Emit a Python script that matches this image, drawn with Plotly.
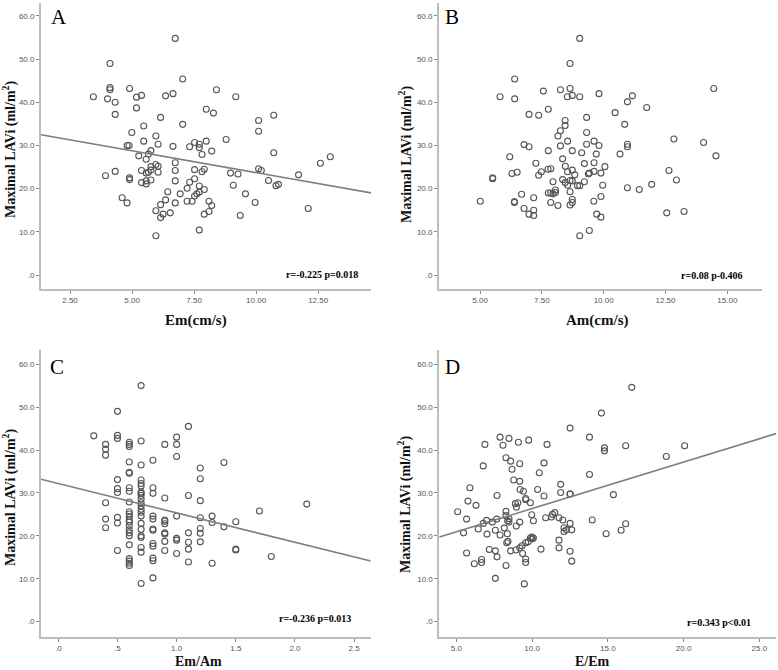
import numpy as np
import plotly.graph_objects as go

# ---------------- data ----------------
# Panel A: Em (cm/s) vs Maximal LAVi
em_A = [6.74, 4.11, 7.04, 4.11, 4.11, 4.90, 3.44, 4.01, 4.32, 5.18,
        5.38, 6.35, 6.65, 8.40, 9.18, 5.18, 4.32, 6.15, 7.99, 8.28,
        7.04, 5.47, 4.99, 5.96, 5.47, 4.80, 4.88, 6.05, 6.65, 7.32,
        7.52, 7.71, 7.71, 7.99, 7.82, 8.21, 8.79, 10.10, 10.10, 10.71,
        10.71, 5.27, 5.76, 5.66, 5.57, 6.74, 5.96, 6.05, 3.93, 4.32,
        4.90, 4.90, 5.38, 5.57, 5.66, 5.76, 5.76, 6.05, 5.38, 5.57,
        5.57, 5.76, 6.74, 6.74, 7.52, 7.82, 7.91, 7.32, 7.22, 7.52,
        7.71, 7.91, 6.44, 6.94, 6.74, 6.35, 6.15, 6.25, 6.15, 5.96,
        6.54, 4.60, 4.80, 5.96, 7.22, 7.42, 7.52, 7.61, 7.71, 7.71,
        7.91, 8.10, 8.10, 8.21, 8.97, 9.08, 9.27, 9.57, 9.96, 9.36,
        10.10, 10.21, 10.50, 10.80, 10.90, 11.71, 12.10, 12.59, 12.99]
lavi_A = [54.8, 49.0, 45.4, 43.4, 42.9, 43.2, 41.3, 40.8, 40.0, 41.2,
          41.6, 41.5, 42.0, 42.9, 41.3, 38.7, 37.2, 36.5, 38.4, 37.5,
          34.9, 34.5, 33.0, 32.2, 31.0, 30.0, 30.0, 30.3, 29.8, 29.7,
          30.7, 30.3, 29.5, 31.0, 27.9, 28.7, 31.4, 35.8, 33.3, 37.0,
          28.3, 27.6, 28.8, 28.0, 26.8, 26.0, 25.6, 25.2, 23.0, 24.0,
          22.5, 22.1, 24.2, 23.6, 23.8, 24.3, 25.1, 23.8, 21.4, 21.1,
          21.8, 22.0, 24.2, 21.8, 24.4, 23.9, 24.5, 21.5, 20.1, 22.3,
          20.6, 19.8, 19.3, 18.8, 16.7, 17.4, 16.3, 14.1, 13.3, 14.9,
          14.4, 17.9, 16.7, 9.1, 17.1, 17.1, 18.3, 18.8, 19.2, 10.4,
          14.1, 14.7, 17.1, 16.1, 23.6, 20.8, 23.4, 18.8, 16.8, 13.8,
          24.6, 24.2, 21.9, 20.7, 21.0, 23.2, 15.4, 25.9, 27.4]

# Panel B: Am (cm/s) vs Maximal LAVi
am_B = [9.03, 8.64, 6.40, 5.81, 6.40, 7.56, 8.25, 8.64, 8.53, 8.73,
        9.03, 9.81, 6.98, 7.37, 7.76, 8.44, 8.44, 8.15, 8.25, 9.31,
        9.31, 8.54, 6.78, 6.98, 6.20, 7.76, 8.25, 8.73, 9.11, 9.31,
        9.61, 9.81, 9.70, 7.26, 8.34, 8.45, 8.54, 8.73, 8.83, 7.75,
        7.86, 7.48, 7.37, 9.22, 9.61, 9.61, 9.42, 9.38, 9.89, 10.05,
        6.29, 6.50, 5.51, 5.51, 7.95, 8.34, 8.44, 8.54, 8.64, 8.73,
        8.94, 9.03, 9.22, 9.96, 7.76, 7.86, 8.05, 7.95, 8.05, 8.64,
        6.68, 7.17, 5.01, 6.39, 6.39, 6.78, 6.98, 7.17, 7.17, 7.86,
        8.15, 8.64, 8.73, 8.73, 9.60, 9.89, 9.72, 9.89, 9.03, 9.42,
        10.96, 11.16, 10.46, 11.74, 10.85, 10.96, 10.96, 10.66, 12.84, 14.04,
        14.45, 14.54, 10.96, 11.44, 11.94, 12.64, 12.94, 12.55, 13.25]
lavi_B = [54.8, 49.0, 45.4, 41.3, 40.8, 42.6, 42.9, 43.2, 41.3, 41.6,
          41.3, 42.0, 37.2, 37.0, 38.4, 35.8, 34.6, 32.2, 33.4, 36.5,
          33.0, 31.0, 30.2, 29.7, 27.4, 28.8, 29.9, 28.8, 28.3, 30.3,
          31.0, 30.0, 28.0, 25.9, 26.9, 25.2, 23.9, 24.3, 23.2, 24.5,
          24.6, 23.9, 23.1, 25.8, 26.0, 24.0, 23.6, 23.4, 23.6, 25.1,
          23.5, 23.8, 22.5, 22.3, 21.6, 22.1, 21.4, 20.8, 21.9, 21.8,
          20.7, 20.7, 21.6, 20.8, 19.0, 19.0, 19.7, 18.8, 19.1, 19.3,
          18.7, 17.9, 17.1, 17.0, 16.8, 15.4, 14.1, 15.0, 13.8, 16.8,
          16.1, 16.2, 16.8, 17.5, 17.1, 18.2, 14.1, 13.4, 9.1, 10.3,
          40.1, 41.5, 37.6, 38.8, 34.9, 30.3, 29.7, 28.0, 31.5, 30.7,
          43.2, 27.6, 20.2, 19.8, 21.0, 24.2, 22.0, 14.4, 14.7]

# Panel C: Em/Am vs Maximal LAVi
emam_C = ([0.3] + [0.4] * 6 + [0.5] * 9 + [0.6] * 23 + [0.7] * 22 + [0.8] * 12
          + [0.9] * 9 + [1.0] * 7 + [1.1] * 6 + [1.2] * 7 + [1.3] * 3 + [1.4] * 2
          + [1.5] * 3 + [1.7] + [1.8] + [2.1])
lavi_C = [43.3,
          41.3, 40.2, 38.8, 27.7, 23.9, 21.9,
          49.0, 43.4, 42.7, 33.1, 31.0, 30.1, 24.3, 23.0, 16.6,
          41.8, 41.3, 40.8, 37.2, 34.8, 34.6, 31.2, 30.4, 27.9, 25.6, 25.1, 24.5,
          23.7, 23.2, 22.4, 21.4, 20.7, 20.0, 17.9, 14.7, 14.1, 13.6, 13.1,
          55.0, 42.1, 36.5, 33.0, 32.2, 31.6, 30.2, 29.9, 29.4, 28.6, 27.7, 27.0,
          26.2, 25.5, 24.6, 22.9, 21.5, 20.0, 19.6, 17.3, 16.2, 8.9,
          37.6, 31.2, 29.9, 24.6, 23.9, 21.6, 21.3, 18.2, 17.6, 14.8, 14.2, 10.2,
          41.3, 28.8, 23.7, 23.4, 22.8, 20.7, 20.4, 18.7, 16.6,
          43.0, 41.3, 38.5, 24.6, 19.4, 19.0, 15.9,
          45.5, 29.4, 20.7, 18.5, 16.9, 13.9,
          35.8, 33.3, 28.2, 24.2, 21.7, 20.6, 18.6,
          24.6, 23.1, 13.6,
          37.1, 22.1,
          23.3, 16.9, 16.7,
          25.8,
          15.2,
          27.4]

# Panel D: E/Em vs Maximal LAVi
eem_D = [12.51, 7.89, 8.48, 6.89, 8.08, 9.10, 9.78, 10.99, 8.28, 8.59,
         6.78, 8.68, 9.19, 10.79, 10.48, 8.79, 9.19, 5.90, 7.69, 9.21,
         9.43, 9.58, 9.58, 10.37, 10.79, 5.77, 6.30, 8.90, 8.97, 9.06,
         9.89, 11.89, 11.89, 12.51, 12.51, 5.09, 5.68, 5.48, 6.45, 6.78,
         7.00, 7.38, 7.67, 7.03, 7.58, 7.89, 8.28, 8.28, 8.48, 8.39,
         8.48, 8.17, 8.37, 9.19, 8.96, 9.98, 10.09, 10.90, 11.28, 11.50,
         11.35, 11.78, 12.03, 12.11, 12.11, 12.27, 12.51, 12.62, 8.33, 8.41,
         8.59, 8.94, 9.19, 9.34, 9.58, 9.74, 9.89, 9.98, 10.02, 10.09,
         7.18, 7.58, 7.69, 5.68, 6.19, 6.67, 6.67, 8.28, 9.38, 9.58,
         9.58, 10.59, 11.78, 11.78, 12.51, 12.62, 7.58, 9.49, 16.58, 14.58,
         13.79, 14.78, 14.78, 16.18, 18.86, 20.07, 13.79, 15.37, 13.97, 14.89,
         15.88, 16.18]
lavi_D = [45.1, 43.0, 42.7, 41.3, 41.1, 41.8, 42.3, 41.3, 38.2, 37.4,
          36.3, 35.5, 36.8, 37.0, 34.7, 33.0, 32.7, 31.2, 29.4, 30.8,
          30.4, 28.7, 28.4, 30.8, 29.3, 28.1, 27.1, 27.5, 26.7, 27.7,
          27.7, 32.0, 30.1, 29.8, 29.7, 25.6, 23.9, 20.7, 21.6, 22.9,
          23.6, 23.2, 23.9, 20.4, 21.3, 20.2, 25.7, 24.7, 24.0, 23.5,
          23.2, 21.8, 20.5, 23.2, 22.3, 24.9, 23.5, 24.2, 24.4, 25.4,
          25.0, 24.2, 23.7, 21.9, 21.0, 21.4, 22.9, 21.4, 18.4, 18.7,
          16.5, 16.7, 17.2, 17.7, 18.4, 18.6, 19.5, 19.7, 19.3, 19.5,
          16.8, 16.5, 15.1, 16.0, 13.5, 14.5, 13.8, 13.1, 15.9, 14.6,
          13.8, 16.9, 19.0, 17.2, 16.4, 14.1, 10.1, 8.8, 54.6, 48.6,
          43.0, 40.5, 39.8, 41.0, 38.5, 41.0, 34.3, 29.6, 23.7, 20.5,
          21.3, 22.8]

# Fit lines (slope, intercept); panel B has none
fit_A = (-1.013, 33.85)
fit_C = (-6.85, 32.2)
fit_D = (1.085, 15.5)

stats_text = ["r=-0.225 p=0.018", "r=0.08 p-0.406", "r=-0.236 p=0.013", "r=0.343 p<0.01"]
panel_letters = ["A", "B", "C", "D"]
x_titles = ["Em(cm/s)", "Am(cm/s)", "Em/Am", "E/Em"]
y_title = "Maximal LAVi (ml/m<sup>2</sup>)"

xticks_A = [2.5, 5.0, 7.5, 10.0, 12.5]
xlabels_A = ["2.50", "5.00", "7.50", "10.00", "12.50"]
xticks_B = [5.0, 7.5, 10.0, 12.5, 15.0]
xlabels_B = ["5.00", "7.50", "10.00", "12.50", "15.00"]
xticks_C = [0.0, 0.5, 1.0, 1.5, 2.0, 2.5]
xlabels_C = [".0", ".5", "1.0", "1.5", "2.0", "2.5"]
xticks_D = [5, 10, 15, 20, 25]
xlabels_D = ["5.0", "10.0", "15.0", "20.0", "25.0"]
yticks = [0, 10, 20, 30, 40, 50, 60]
ylabels = [".0", "10.0", "20.0", "30.0", "40.0", "50.0", "60.0"]

# ---------------- figure ----------------
W, H = 778, 670


def px(x):
    return x / W


def py(y):
    return 1 - y / H


SERIF = "Liberation Serif"
SANS = "Liberation Sans"
MARK = "#555555"
AXC = "#bdbdbd"

panels = [
    dict(x=em_A, y=lavi_A, fit=fit_A, xr=[1.33, 14.63], yr=[-3.17, 63.0],
         xd=[41, 371], yd=[288.7, 3], tv=xticks_A, tt=xlabels_A),
    dict(x=am_B, y=lavi_B, fit=None, xr=[3.34, 16.39], yr=[-3.17, 63.0],
         xd=[439, 761.7], yd=[288.7, 3], tv=xticks_B, tt=xlabels_B),
    dict(x=emam_C, y=lavi_C, fit=fit_C, xr=[-0.146, 2.64], yr=[-3.5, 63.3],
         xd=[41, 370.7], yd=[636.7, 350], tv=xticks_C, tt=xlabels_C),
    dict(x=eem_D, y=lavi_D, fit=fit_D, xr=[3.88, 26.1], yr=[-3.5, 63.3],
         xd=[439.3, 776], yd=[636.7, 350], tv=xticks_D, tt=xlabels_D),
]

fig = go.Figure()
layout = dict(width=W, height=H, margin=dict(l=0, r=0, t=0, b=0),
              paper_bgcolor="white", plot_bgcolor="white", showlegend=False)

for i, p in enumerate(panels):
    n = "" if i == 0 else str(i + 1)
    xa, ya = "x" + n, "y" + n
    fig.add_trace(go.Scatter(
        x=p["x"], y=p["y"], xaxis=xa, yaxis=ya, mode="markers",
        marker=dict(symbol="circle-open", size=6, color=MARK,
                    line=dict(width=1.1, color=MARK)),
        hoverinfo="x+y"))
    if p["fit"] is not None:
        s, b = p["fit"]
        xl = np.array(p["xr"])
        fig.add_trace(go.Scatter(
            x=xl, y=s * xl + b, xaxis=xa, yaxis=ya, mode="lines",
            line=dict(color="#7f7f7f", width=1.6), hoverinfo="skip"))
    layout["xaxis" + n] = dict(
        domain=[px(p["xd"][0]), px(p["xd"][1])], range=p["xr"], anchor=ya,
        showgrid=False, zeroline=False, showline=True, linecolor=AXC, linewidth=1.8,
        ticks="outside", ticklen=3, tickcolor="#888888", tickwidth=1,
        tickvals=p["tv"], ticktext=p["tt"],
        tickfont=dict(family=SANS, size=8, color="#555555"))
    layout["yaxis" + n] = dict(
        domain=[py(p["yd"][0]), py(p["yd"][1])], range=p["yr"], anchor=xa,
        showgrid=False, zeroline=False, showline=True, linecolor=AXC, linewidth=1.8,
        ticks="outside", ticklen=3, tickcolor="#888888", tickwidth=1,
        tickvals=yticks, ticktext=ylabels,
        tickfont=dict(family=SANS, size=8, color="#555555"))

fig.update_layout(**layout)

ann = []
letter_pos = [(49, 17), (443, 17), (48, 367), (443, 367)]
stats_pos = [(322, 274), (712, 275), (315, 618), (719, 622)]
xtitle_pos = [(196, 320), (597, 320), (198, 661), (592, 661)]
ytitle_pos = [(9, 150), (405, 155), (9, 498), (405, 505)]
for i in range(4):
    ann.append(dict(text=panel_letters[i], x=px(letter_pos[i][0]), y=py(letter_pos[i][1]),
                    xref="paper", yref="paper", xanchor="left", yanchor="middle",
                    showarrow=False, font=dict(family=SERIF, size=21, color="black")))
    ann.append(dict(text="<b>" + stats_text[i] + "</b>", x=px(stats_pos[i][0]),
                    y=py(stats_pos[i][1]), xref="paper", yref="paper",
                    xanchor="center", yanchor="middle", showarrow=False,
                    font=dict(family=SERIF, size=10, color="black")))
    ann.append(dict(text="<b>" + x_titles[i] + "</b>", x=px(xtitle_pos[i][0]),
                    y=py(xtitle_pos[i][1]), xref="paper", yref="paper",
                    xanchor="center", yanchor="middle", showarrow=False,
                    borderpad=0,
                    font=dict(family=SERIF, size=15 if i < 2 else 14, color="#111111")))
    ann.append(dict(text="<b>" + y_title + "</b>", x=px(ytitle_pos[i][0]),
                    y=py(ytitle_pos[i][1]), xref="paper", yref="paper",
                    xanchor="center", yanchor="middle", showarrow=False, textangle=-90,
                    font=dict(family=SERIF, size=14, color="#111111")))
fig.update_layout(annotations=ann)

fig.write_html("out.html", config={"displayModeBar": False},
               post_script="document.body.style.margin='0';document.body.style.overflow='hidden';")
